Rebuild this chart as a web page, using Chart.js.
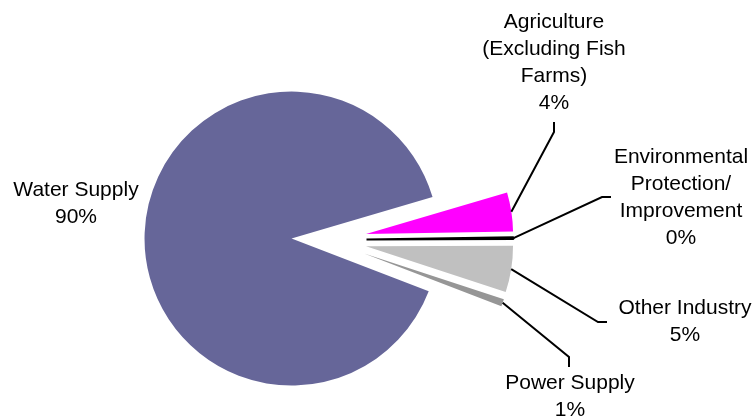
<!DOCTYPE html>
<html>
<head>
<meta charset="utf-8">
<style>
  html, body { margin: 0; padding: 0; background: #fff; }
</style>
</head>
<body>
<canvas id="useChart" width="754" height="419"></canvas>
<script src="https://cdn.jsdelivr.net/npm/chart.js@4/dist/chart.umd.min.js"></script>
<script>
// Water use by sector, share of total (%)
var sectors = ['Agriculture (Excluding Fish Farms)', 'Environmental Protection/ Improvement', 'Other Industry', 'Power Supply', 'Water Supply'];
var shares = [4.3, 0.2, 5.1, 0.8, 89.6];
var sliceColors = ['#FF00FF', '#000000', '#C0C0C0', '#969696', '#666699'];

// callout text, the rounded percentage goes underneath
var calloutLines = [
  ['Agriculture', '(Excluding Fish', 'Farms)'],
  ['Environmental', 'Protection/', 'Improvement'],
  ['Other Industry'],
  ['Power Supply'],
  ['Water Supply']
];

// how far each slice is pulled out from the centre
var explode = [40, 40, 40, 40, 35];

// where each callout sits and the bends of its leader line
var callouts = [
  { x: 554, y: 22, path: [[554, 132], [554, 122]] },
  { x: 681, y: 157, path: [[602, 197], [611, 197]] },
  { x: 685, y: 308, path: [[598, 322], [607, 322]] },
  { x: 570, y: 383, path: [[569, 357], [569, 367]] },
  { x: 76, y: 190, path: null }
];

var explodedPie = {
  id: 'explodedPie',
  beforeDatasetDraw: function (chart, args) {
    var ctx = chart.ctx;
    args.meta.data.forEach(function (arc, i) {
      var mid = (arc.startAngle + arc.endAngle) / 2;
      ctx.save();
      ctx.translate(Math.cos(mid) * explode[i], Math.sin(mid) * explode[i]);
      arc.draw(ctx);
      ctx.restore();
    });
    return false;
  },
  afterDatasetsDraw: function (chart) {
    var ctx = chart.ctx;
    var meta = chart.getDatasetMeta(0);
    var total = shares.reduce(function (a, b) { return a + b; }, 0);
    ctx.save();
    ctx.strokeStyle = '#000';
    ctx.fillStyle = '#000';
    ctx.lineWidth = 2;
    ctx.font = '21px "Liberation Sans", Arial, sans-serif';
    ctx.textAlign = 'center';
    ctx.textBaseline = 'middle';
    meta.data.forEach(function (arc, i) {
      var c = callouts[i];
      if (c.path) {
        var mid = (arc.startAngle + arc.endAngle) / 2;
        var r = arc.outerRadius + explode[i];
        ctx.beginPath();
        ctx.moveTo(arc.x + Math.cos(mid) * r, arc.y + Math.sin(mid) * r);
        c.path.forEach(function (p) { ctx.lineTo(p[0], p[1]); });
        ctx.stroke();
      }
      var lines = calloutLines[i].concat(Math.round(shares[i] / total * 100) + '%');
      lines.forEach(function (t, k) {
        ctx.fillText(t, c.x, c.y + k * 27);
      });
    });
    ctx.restore();
  }
};

new Chart(document.getElementById('useChart'), {
  type: 'pie',
  data: {
    labels: sectors,
    datasets: [{
      data: shares,
      backgroundColor: sliceColors,
      borderColor: '#000000',
      borderWidth: [0, 2, 0, 0, 0]
    }]
  },
  options: {
    responsive: false,
    animation: false,
    devicePixelRatio: 1,
    radius: 147,
    rotation: 73.6,
    layout: { padding: { left: 0, right: 101, top: 61, bottom: 0 } },
    plugins: {
      legend: { display: false },
      tooltip: { enabled: false }
    }
  },
  plugins: [explodedPie]
});
</script>
</body>
</html>
